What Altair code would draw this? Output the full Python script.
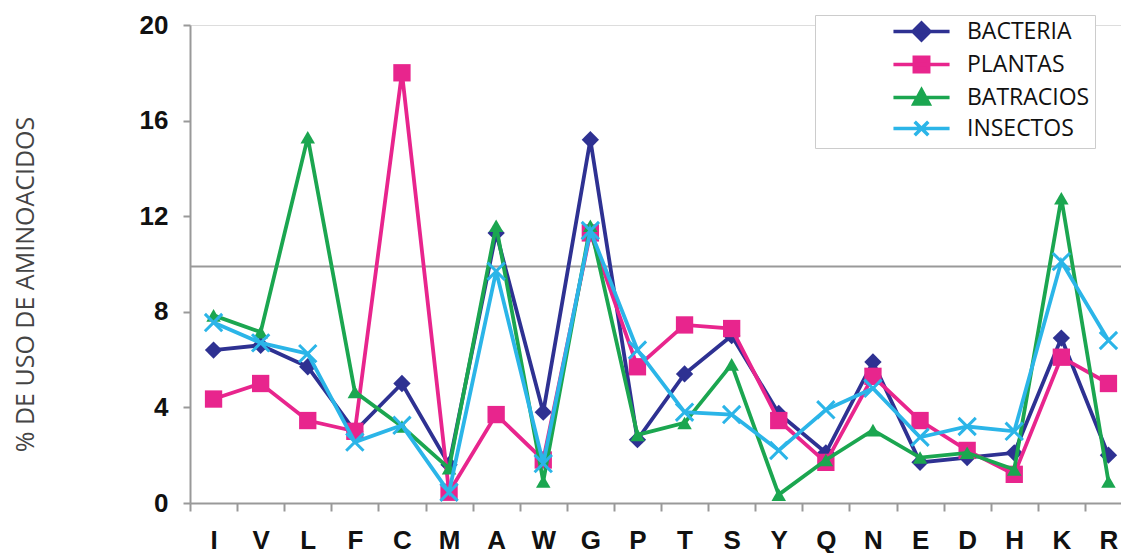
import altair as alt
import pandas as pd

AMINO = ["I", "V", "L", "F", "C", "M", "A", "W", "G", "P",
         "T", "S", "Y", "Q", "N", "E", "D", "H", "K", "R"]
SERIES = ["BACTERIA", "PLANTAS", "BATRACIOS", "INSECTOS"]
BACTERIA = [6.4, 6.6, 5.7, 3.0, 5.0, 1.6, 11.3, 3.8, 15.2, 2.65,
            5.4, 7.0, 3.75, 2.1, 5.9, 1.7, 1.9, 2.1, 6.9, 2.0]
PLANTAS = [4.35, 5.0, 3.45, 3.0, 18.0, 0.45, 3.7, 1.8, 11.3, 5.7,
           7.45, 7.3, 3.45, 1.7, 5.3, 3.45, 2.2, 1.2, 6.1, 5.0]
BATRACIOS = [7.85, 7.15, 15.3, 4.65, 3.2, 1.45, 11.6, 0.9, 11.6, 2.85,
             3.35, 5.8, 0.35, 1.8, 3.05, 1.9, 2.1, 1.4, 12.75, 0.9]
INSECTOS = [7.55, 6.7, 6.25, 2.55, 3.25, 0.45, 9.7, 1.65, 11.4, 6.4,
            3.8, 3.7, 2.2, 3.9, 4.8, 2.75, 3.2, 3.0, 10.1, 6.8]
Y_TICKS = [0, 4, 8, 12, 16, 20]
REF_LINE = [9.9]

COLORS = ["#2E3192", "#E8258D", "#1BA650", "#2BB5E8"]
SHAPES = ["diamond", "square", "triangle-up", "M-1,-1L1,1M-1,1L1,-1"]
SIZES = [300, 300, 210, 300]
FILLED = [True, True, True, False]
LEGEND_PATHS = [
    "M-3.3,0L3.3,0M0,-1L1,0L0,1L-1,0Z",
    "M-3.3,0L3.3,0M-0.85,-0.85L0.85,-0.85L0.85,0.85L-0.85,0.85Z",
    "M-3.3,0L3.3,0M0,-0.9L0.9,0.75L-0.9,0.75Z",
    "M-3.3,0L3.3,0M-0.8,-0.8L0.8,0.8M-0.8,0.8L0.8,-0.8",
]

values = [BACTERIA, PLANTAS, BATRACIOS, INSECTOS]
rows = []
for name, vals in zip(SERIES, values):
    for a, v in zip(AMINO, vals):
        rows.append({"amino": a, "serie": name, "valor": v})
df = pd.DataFrame(rows)

x_enc = alt.X(
    "amino:N", sort=AMINO,
    scale=alt.Scale(type="band", paddingInner=0, paddingOuter=0, domain=AMINO,
                    range=[0, 942]),
    axis=alt.Axis(
        title=None, labelAngle=0, labelFont="Liberation Sans", labelFontSize=26,
        labelFontWeight="bold", labelColor="#111", tickBand="extent", tickSize=8,
        tickColor="#999", tickWidth=2, domainColor="#999", domainWidth=2,
        labelPadding=16, grid=False,
    ),
)
y_enc = alt.Y(
    "valor:Q",
    scale=alt.Scale(domain=[0, 20], nice=False),
    axis=alt.Axis(
        values=Y_TICKS, title="% DE USO DE AMINOACIDOS", titleFont="Open Sans",
        titleFontSize=25, titleFontWeight="normal", titleColor="#444",
        titlePadding=101, titleY=259,
        labelFont="Liberation Sans", labelFontSize=26, labelFontWeight="bold",
        labelColor="#111", labelPadding=15, tickSize=7, tickColor="#999",
        tickWidth=2, domainColor="#999", domainWidth=2, grid=False,
    ),
)

rule = alt.Chart(pd.DataFrame({"ref": REF_LINE})).mark_rule(
    color="#999", strokeWidth=2
).encode(y=alt.Y("ref:Q", scale=alt.Scale(domain=[0, 20], nice=False)))

layers = [rule]
for i, name in enumerate(SERIES):
    base = alt.Chart(df).transform_filter(alt.datum.serie == name)
    line = base.mark_line(color=COLORS[i], strokeWidth=3.8).encode(x=x_enc, y=y_enc)
    if FILLED[i]:
        pts = base.mark_point(shape=SHAPES[i], filled=True, size=SIZES[i],
                              color=COLORS[i], opacity=1, strokeWidth=0)
    else:
        pts = base.mark_point(shape=SHAPES[i], filled=False, size=SIZES[i],
                              color=COLORS[i], opacity=1, strokeWidth=3)
    layers.append(line)
    layers.append(pts.encode(x=x_enc, y=y_enc))

leg = alt.Legend(
    title=None, orient="none", legendX=625, legendY=-10, padding=5,
    strokeColor="#ccc", fillColor="white", labelFont="Open Sans",
    labelFontSize=23, labelColor="#111", symbolSize=289, symbolStrokeWidth=3.5,
    symbolOffset=90, labelOffset=34, rowPadding=3,
)
legend_layer = alt.Chart(pd.DataFrame({"serie": SERIES})).transform_filter(
    "false"
).mark_point(opacity=1, strokeWidth=3.5, size=289).encode(
    shape=alt.Shape("serie:N", scale=alt.Scale(domain=SERIES, range=LEGEND_PATHS), legend=leg),
    fill=alt.Fill("serie:N", scale=alt.Scale(domain=SERIES, range=COLORS), legend=leg),
    stroke=alt.Stroke("serie:N", scale=alt.Scale(domain=SERIES, range=COLORS), legend=leg),
)
layers.append(legend_layer)

chart = alt.layer(*layers).properties(
    width=931, height=478,
    autosize=alt.AutoSizeParams(type="none"),
    padding={"left": 182, "top": 17, "right": 0, "bottom": 50},
).configure_view(
    stroke="#999", strokeWidth=2
).configure(background="white")

chart.save("out.html", embed_options={"renderer": "svg", "actions": False})
